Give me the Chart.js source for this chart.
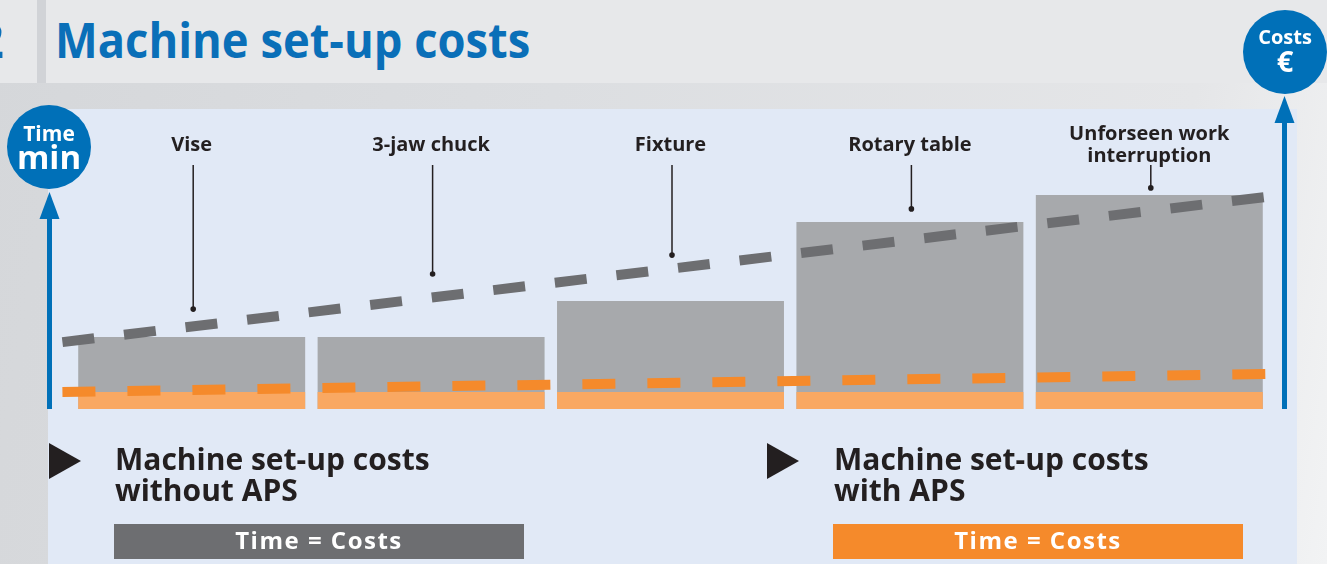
<!DOCTYPE html>
<html>
<head>
<meta charset="utf-8">
<script src="https://cdn.jsdelivr.net/npm/chart.js@4.4.0/dist/chart.umd.min.js"></script>
<style>
  html, body { margin: 0; padding: 0; }
  body {
    width: 1327px; height: 564px; position: relative; overflow: hidden;
    font-family: "Open Sans", sans-serif;
    background: linear-gradient(100deg, #d5d7da 0%, #dcdee1 40%, #e5e6e8 85%, #f2f3f4 100%);
  }
  .topband { position: absolute; left: 0; top: 0; width: 1327px; height: 83px; background: #e7e8ea; }
  .sep { position: absolute; left: 37px; top: 0; width: 9px; height: 83px; background: #d1d3d7; }
  .num { position: absolute; left: -24px; top: 9px; font-size: 49px; font-weight: 700; color: #0a6fb8; line-height: 60px; }
  .title { position: absolute; left: 55px; top: 9px; font-size: 49px; font-weight: 700; color: #0a6fb8; line-height: 60px;
           white-space: nowrap; transform: scaleX(0.925); transform-origin: 0 0; }
  .panel { position: absolute; left: 48px; top: 109px; width: 1249px; height: 455px; background: #e1e9f6; }
  .circle { position: absolute; width: 84px; height: 84px; border-radius: 50%; background: #0070b8; color: #fff; font-weight: 700; text-align: center; }
  .circle span { position: absolute; left: 0; width: 84px; display: block; }
  .tri { position: absolute; width: 0; height: 0; border-top: 18px solid transparent; border-bottom: 18px solid transparent; border-left: 32px solid #231f20; }
  .cap { position: absolute; font-size: 30px; font-weight: 700; color: #231f20; line-height: 31px; white-space: nowrap; }
  .box { position: absolute; width: 410px; height: 35px; color: #fff; font-size: 24px; font-weight: 700; text-align: center; line-height: 31px; letter-spacing: 1.5px; }
  #wrap { position: absolute; left: 0; top: 0; width: 1327px; height: 564px; }
</style>
</head>
<body>
<div class="topband"></div>
<div class="sep"></div>
<div class="num">2</div>
<div class="title">Machine set-up costs</div>
<div class="panel"></div>

<div id="wrap"><canvas id="chart"></canvas></div>

<div class="circle" style="left:7px; top:105px;">
  <span style="top:16px; font-size:21px; line-height:24px;">Time</span>
  <span style="top:34px; font-size:33px; line-height:36px;">min</span>
</div>
<div class="circle" style="left:1243px; top:10px;">
  <span style="top:15px; font-size:20px; line-height:24px;">Costs</span>
  <span style="top:36px; font-size:29px; line-height:30px;">€</span>
</div>

<div class="tri" style="left:49px; top:443px;"></div>
<div class="cap" style="left:115px; top:443px;">Machine set-up costs<br>without APS</div>
<div class="box" style="left:114px; top:524px; background:#6d6e71;">Time = Costs</div>

<div class="tri" style="left:767px; top:443px;"></div>
<div class="cap" style="left:834px; top:443px;">Machine set-up costs<br>with APS</div>
<div class="box" style="left:833px; top:524px; background:#f58a2b;">Time = Costs</div>

<script>
// set-up time per clamping situation (minutes)
const categories = ['Vise', '3-jaw chuck', 'Fixture', 'Rotary table', 'Unforseen work\ninterruption'];
const withoutAps = [24, 24, 36, 62.3, 71.3];
const withAps = [5.7, 5.7, 5.7, 5.7, 5.7];

// cost trend lines (x in category units)
const trendX = [-0.54, 4.52];
const trendWithout = [22.3, 71];
const trendWith = [5.7, 11.7];

// where each label's pointer ends
const leaderEnd = [33.3, 45, 51.3, 66.7, 73.7];

const toPoints = (ys) => ys.map((y, i) => ({ x: trendX[i], y: y }));

// labels, pointers and the two axis arrows
const decorations = {
  id: 'decorations',
  afterDatasetsDraw(chart) {
    const ctx = chart.ctx;
    const xs = chart.scales.x;
    const ys = chart.scales.y;
    const area = chart.chartArea;
    ctx.save();

    ctx.fillStyle = '#231f20';
    ctx.strokeStyle = '#231f20';
    ctx.font = 'bold 20px "Open Sans"';
    ctx.textAlign = 'center';
    ctx.textBaseline = 'middle';
    categories.forEach((c, i) => {
      const x = xs.getPixelForValue(i);
      const lines = c.split('\n');
      lines.forEach((l, j) => {
        ctx.fillText(l, x, area.top + 36 - (lines.length - 1) * 11 + j * 22);
      });
      const yEnd = ys.getPixelForValue(leaderEnd[i]);
      ctx.lineWidth = 1.5;
      ctx.beginPath();
      ctx.moveTo(x + 1.5, area.top + 56);
      ctx.lineTo(x + 1.5, yEnd);
      ctx.stroke();
      ctx.beginPath();
      ctx.arc(x + 1.5, yEnd, 2.8, 0, Math.PI * 2);
      ctx.fill();
    });

    // axis arrows
    ctx.fillStyle = '#0070b8';
    const arrow = (x, tip) => {
      ctx.fillRect(x - 2.5, tip + 20, 5, area.bottom - tip - 20);
      ctx.beginPath();
      ctx.moveTo(x, tip);
      ctx.lineTo(x + 10, tip + 27);
      ctx.lineTo(x - 10, tip + 27);
      ctx.closePath();
      ctx.fill();
    };
    arrow(49.5, area.top + 83);
    arrow(1284.5, area.top - 13);
    ctx.restore();
  }
};

new Chart(document.getElementById('chart'), {
  type: 'bar',
  data: {
    labels: categories,
    datasets: [
      {
        type: 'line', label: 'Cost trend with APS', data: toPoints(trendWith), xAxisID: 'x2',
        borderColor: '#f58a2b', borderWidth: 10, borderDash: [33, 32], borderCapStyle: 'butt',
        pointRadius: 0, clip: false, order: 0
      },
      {
        type: 'line', label: 'Cost trend without APS', data: toPoints(trendWithout), xAxisID: 'x2',
        borderColor: '#6d6e71', borderWidth: 10, borderDash: [32, 30], borderCapStyle: 'butt',
        pointRadius: 0, clip: false, order: 1
      },
      {
        label: 'With APS', data: withAps, backgroundColor: '#f9a862',
        grouped: false, barPercentage: 1, categoryPercentage: 0.948, order: 2
      },
      {
        label: 'Without APS', data: withoutAps, backgroundColor: '#a7a9ac',
        grouped: false, barPercentage: 1, categoryPercentage: 0.948, order: 3
      }
    ]
  },
  options: {
    responsive: true,
    maintainAspectRatio: false,
    animation: false,
    layout: { padding: { left: 72, right: 58, top: 109, bottom: 155 } },
    plugins: { legend: { display: false }, tooltip: { enabled: false } },
    scales: {
      x: { display: false },
      x2: { type: 'linear', display: false, offset: false, min: -0.5, max: 4.5 },
      y: { display: false, min: 0, max: 100 }
    }
  },
  plugins: [decorations]
});
</script>
</body>
</html>
